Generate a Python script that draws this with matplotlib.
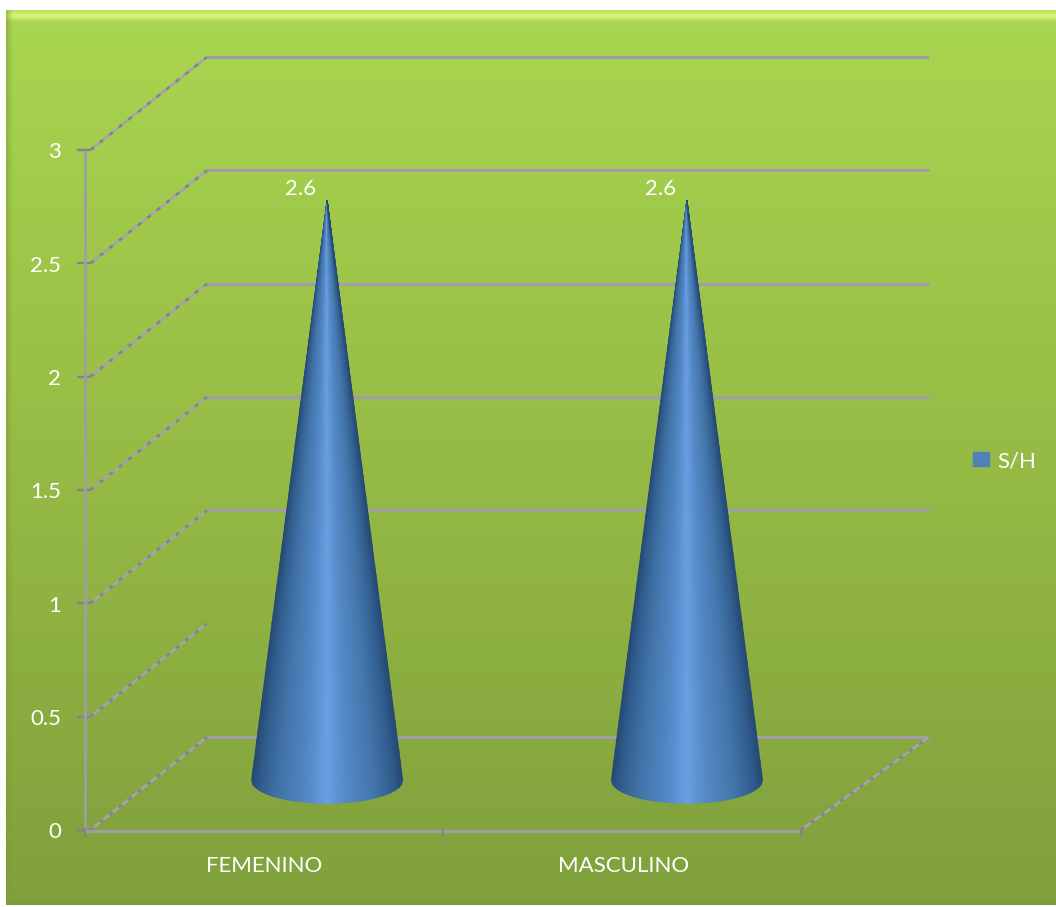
import numpy as np
import matplotlib
matplotlib.use("Agg")
import matplotlib.pyplot as plt
from matplotlib.colors import LinearSegmentedColormap
from matplotlib.patches import Rectangle

categories = ["FEMENINO", "MASCULINO"]
values = [2.6, 2.6]
series_name = "S/H"
y_ticks = [0, 0.5, 1, 1.5, 2, 2.5, 3]
y_tick_labels = ["0", "0.5", "1", "1.5", "2", "2.5", "3"]

W, H = 1056, 907
plt.rcParams["font.family"] = ["Lato", "DejaVu Sans"]
FS = 16
fig = plt.figure(figsize=(W / 100, H / 100), dpi=100, facecolor="white")

# background panel
bg = fig.add_axes([0, 0, 1, 1], zorder=0)
bg.axis("off")
vert = LinearSegmentedColormap.from_list("v", ["#a9d650", "#96bb45", "#80a03c"])
bg.imshow(np.linspace(0, 1, 256)[:, None], extent=[6, W, 905, 10], cmap=vert, aspect="auto", zorder=1)
top = LinearSegmentedColormap.from_list("t", ["#b8de5a", "#d8f47c", "#a9d650"])
bg.imshow(np.linspace(0, 1, 64)[:, None], extent=[6, W, 22, 10], cmap=top, aspect="auto", zorder=2)
left = LinearSegmentedColormap.from_list("l", ["#7da03299", "#7da03200"])
bg.imshow(np.linspace(0, 1, 64)[None, :], extent=[6, 13, 905, 10], cmap=left, aspect="auto", zorder=3)
bot = LinearSegmentedColormap.from_list("b", ["#76943a00", "#76943a88"])
bg.imshow(np.linspace(0, 1, 32)[:, None], extent=[6, W, 905, 899], cmap=bot, aspect="auto", zorder=3)
bg.set_xlim(0, W); bg.set_ylim(H, 0)

# plot axes: front face of the 3D box
x0, x1, y0, y3 = 85, 801, 830, 150
ax = fig.add_axes([x0 / W, 1 - y0 / H, (x1 - x0) / W, (y0 - y3) / H], zorder=2)
ax.patch.set_alpha(0)
ax.set_xlim(0, len(categories)); ax.set_ylim(0, max(y_ticks))
ax.axis("off")
DX = 122 * len(categories) / (x1 - x0)
DXR = 128 * len(categories) / (x1 - x0)
DY = 93 * max(y_ticks) / (y0 - y3)
GRID = "#a09da6"
DASH = "#85828d"
LIGHT = "#a6a3ab"
kw = dict(clip_on=False, solid_capstyle="butt")


def diagonal(xa, ya, xb, yb):
    ax.plot([xa, xb], [ya, yb], color=LIGHT, lw=1.9, zorder=1, **kw)
    ax.plot([xa, xb], [ya, yb], color=DASH, lw=1.9, ls=(0, (1.6, 3.0)), zorder=1,
            clip_on=False, dash_capstyle="butt")


for t, lab in zip(y_ticks, y_tick_labels):
    if t != 0.5:
        ax.plot([DX, 2 + DXR], [t + DY, t + DY], color=GRID, lw=2.3, zorder=1, **kw)
    diagonal(0.015, t, DX, t + DY)
    ax.plot([-0.022, 0.015], [t, t], color=DASH, lw=1.7, zorder=1, **kw)
    ax.text(-0.067, t - 0.011, lab, color="white", fontsize=FS, ha="right", va="center", clip_on=False)
diagonal(2, 0, 2 + DXR, DY)
ax.plot([0, 0], [0, 3], color=GRID, lw=2.0, zorder=1, **kw)
ax.plot([0, 2], [-0.004, -0.004], color=GRID, lw=2.2, zorder=1, **kw)
for c in range(3):
    ax.plot([c, c], [0.01, -0.03], color=DASH, lw=1.5, zorder=1, **kw)

# cones
cone = LinearSegmentedColormap.from_list(
    "c", [(0, "#264a75"), (0.05, "#305c8c"), (0.18, "#4274a9"), (0.36, "#5288c6"), (0.5, "#6a9fe2"),
          (0.64, "#5489c6"), (0.82, "#4375aa"), (0.95, "#305c8c"), (1, "#264a75")])
RX = 75.5 * 2 / (x1 - x0)
RY = 23 * 3 / (y0 - y3)
BASE = 0.22
u = np.linspace(-1, 1, 121)
h = np.linspace(0, 1, 60)
U, T = np.meshgrid(u, h)
for i, v in enumerate(values):
    cx = i * 1.005 + 0.506 + DX / 2
    X = cx + U * RX * (1 - T)
    Y = BASE - RY * np.sqrt(1 - U ** 2) * (1 - T) + v * 0.983 * T
    ax.pcolormesh(X, Y, (U + 1) / 2, cmap=cone, shading="gouraud", zorder=3, clip_on=False,
                  vmin=0, vmax=1)
    ax.text(cx - 0.073, BASE + v * 0.983 + 0.052, f"{v}", color="white", fontsize=FS,
            ha="center", va="center", clip_on=False)
    ax.text(i * 1.005 + 0.5, -0.158, categories[i], color="white", fontsize=FS, ha="center", va="center",
            clip_on=False)

# legend
bg.add_patch(Rectangle((973, 452), 16, 14, color="#4f81bd", zorder=5))
bg.text(997, 461, series_name, color="white", fontsize=FS, ha="left", va="center", zorder=5)

fig.savefig("out.png", dpi=100)
